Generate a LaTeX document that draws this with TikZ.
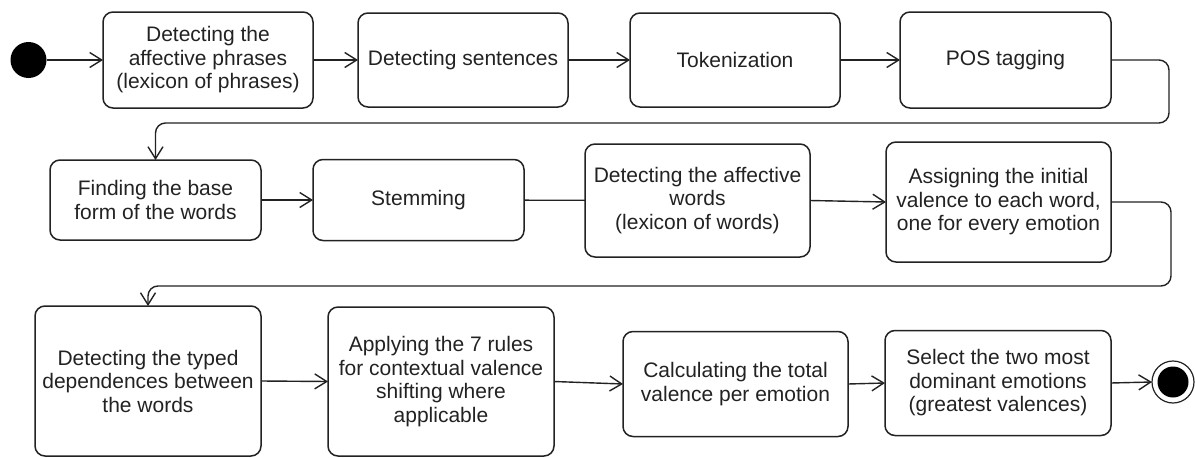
\documentclass[tikz,border=0pt]{standalone}
\usepackage{fontspec}
\setmainfont{Liberation Sans}
\usetikzlibrary{arrows.meta}
\definecolor{ink}{HTML}{222222}
\tikzset{
  stepbox/.style={draw=ink, text=ink, line width=1.5pt, rounded corners=10pt,
    rectangle, align=center, inner sep=2pt, outer sep=0pt,
    font=\fontsize{21}{23.5}\selectfont},
  flow/.style={draw=ink, line width=1.4pt,
    -{Straight Barb[length=12pt,width=15pt,line width=1.4pt]}},
  plainflow/.style={draw=ink, line width=1.4pt},
}
\begin{document}
\begin{tikzpicture}[x=1pt,y=-1pt]
\useasboundingbox (0,0) rectangle (1195,458);

% initial and final states
\node[circle, fill=black, minimum size=36pt, inner sep=0pt, outer sep=0pt] (start) at (28.5,60) {};
\node[circle, draw=ink, line width=1.2pt, minimum size=42pt, inner sep=0pt, outer sep=0pt] (end) at (1173,382) {};
\node[circle, fill=black, minimum size=31pt, inner sep=0pt] (endcore) at (end.center) {};

% first row
\node[stepbox, minimum width=210pt, minimum height=96pt] (b1) at (208,60)
  {Detecting the\\affective phrases\\(lexicon of phrases)};
\node[stepbox, minimum width=210pt, minimum height=94pt] (b2) at (463,60)
  {Detecting sentences};
\node[stepbox, minimum width=210pt, minimum height=94pt] (b3) at (735,60)
  {Tokenization};
\node[stepbox, minimum width=211pt, minimum height=96pt] (b4) at (1005.5,60)
  {POS tagging};

% second row
\node[stepbox, minimum width=211pt, minimum height=80pt] (b5) at (155.5,200)
  {Finding the base\\form of the words};
\node[stepbox, minimum width=211pt, minimum height=81pt] (b6) at (418.5,200)
  {Stemming};
\node[stepbox, minimum width=225pt, minimum height=113pt] (b7) at (697.5,200.5)
  {Detecting the affective\\words\\(lexicon of words)};
\node[stepbox, minimum width=225pt, minimum height=120pt] (b8) at (998.5,202)
  {Assigning the initial\\valence to each word,\\one for every emotion};

% third row
\node[stepbox, minimum width=226pt, minimum height=150pt] (b9) at (148,381)
  {Detecting the typed\\dependences between\\the words};
\node[stepbox, minimum width=226pt, minimum height=149pt] (b10) at (441,381.5)
  {Applying the 7 rules\\for contextual valence\\shifting where\\applicable};
\node[stepbox, minimum width=225pt, minimum height=105pt] (b11) at (735.5,384)
  {Calculating the total\\valence per emotion};
\node[stepbox, minimum width=226pt, minimum height=105pt] (b12) at (998,383)
  {Select the two most\\dominant emotions\\(greatest valences)};

% bends of the wrap-around connectors
\coordinate (w1) at (1169,123);
\coordinate (w2) at (1171,286);

% connectors
\draw[flow] (start) -- (b1);
\draw[flow] (b1) -- (b2);
\draw[flow] (b2) -- (b3);
\draw[flow] (b3) -- (b4);
\draw[flow, rounded corners=10pt] (b4.east) -| (w1) -| (b5.north);
\draw[flow] (b5) -- (b6);
\draw[plainflow] (b6) -- (b7);
\draw[flow] (b7.east) -- (b8.west);
\draw[flow, rounded corners=10pt] (b8.east) -| (w2) -| (b9.north);
\draw[flow] (b9.east) -- (b10.west);
\draw[flow] (b10.east) -- (b11.west);
\draw[flow] (b11.east) -- (b12.west);
\draw[flow] (b12.east) -- (end.west);
\end{tikzpicture}
\end{document}
